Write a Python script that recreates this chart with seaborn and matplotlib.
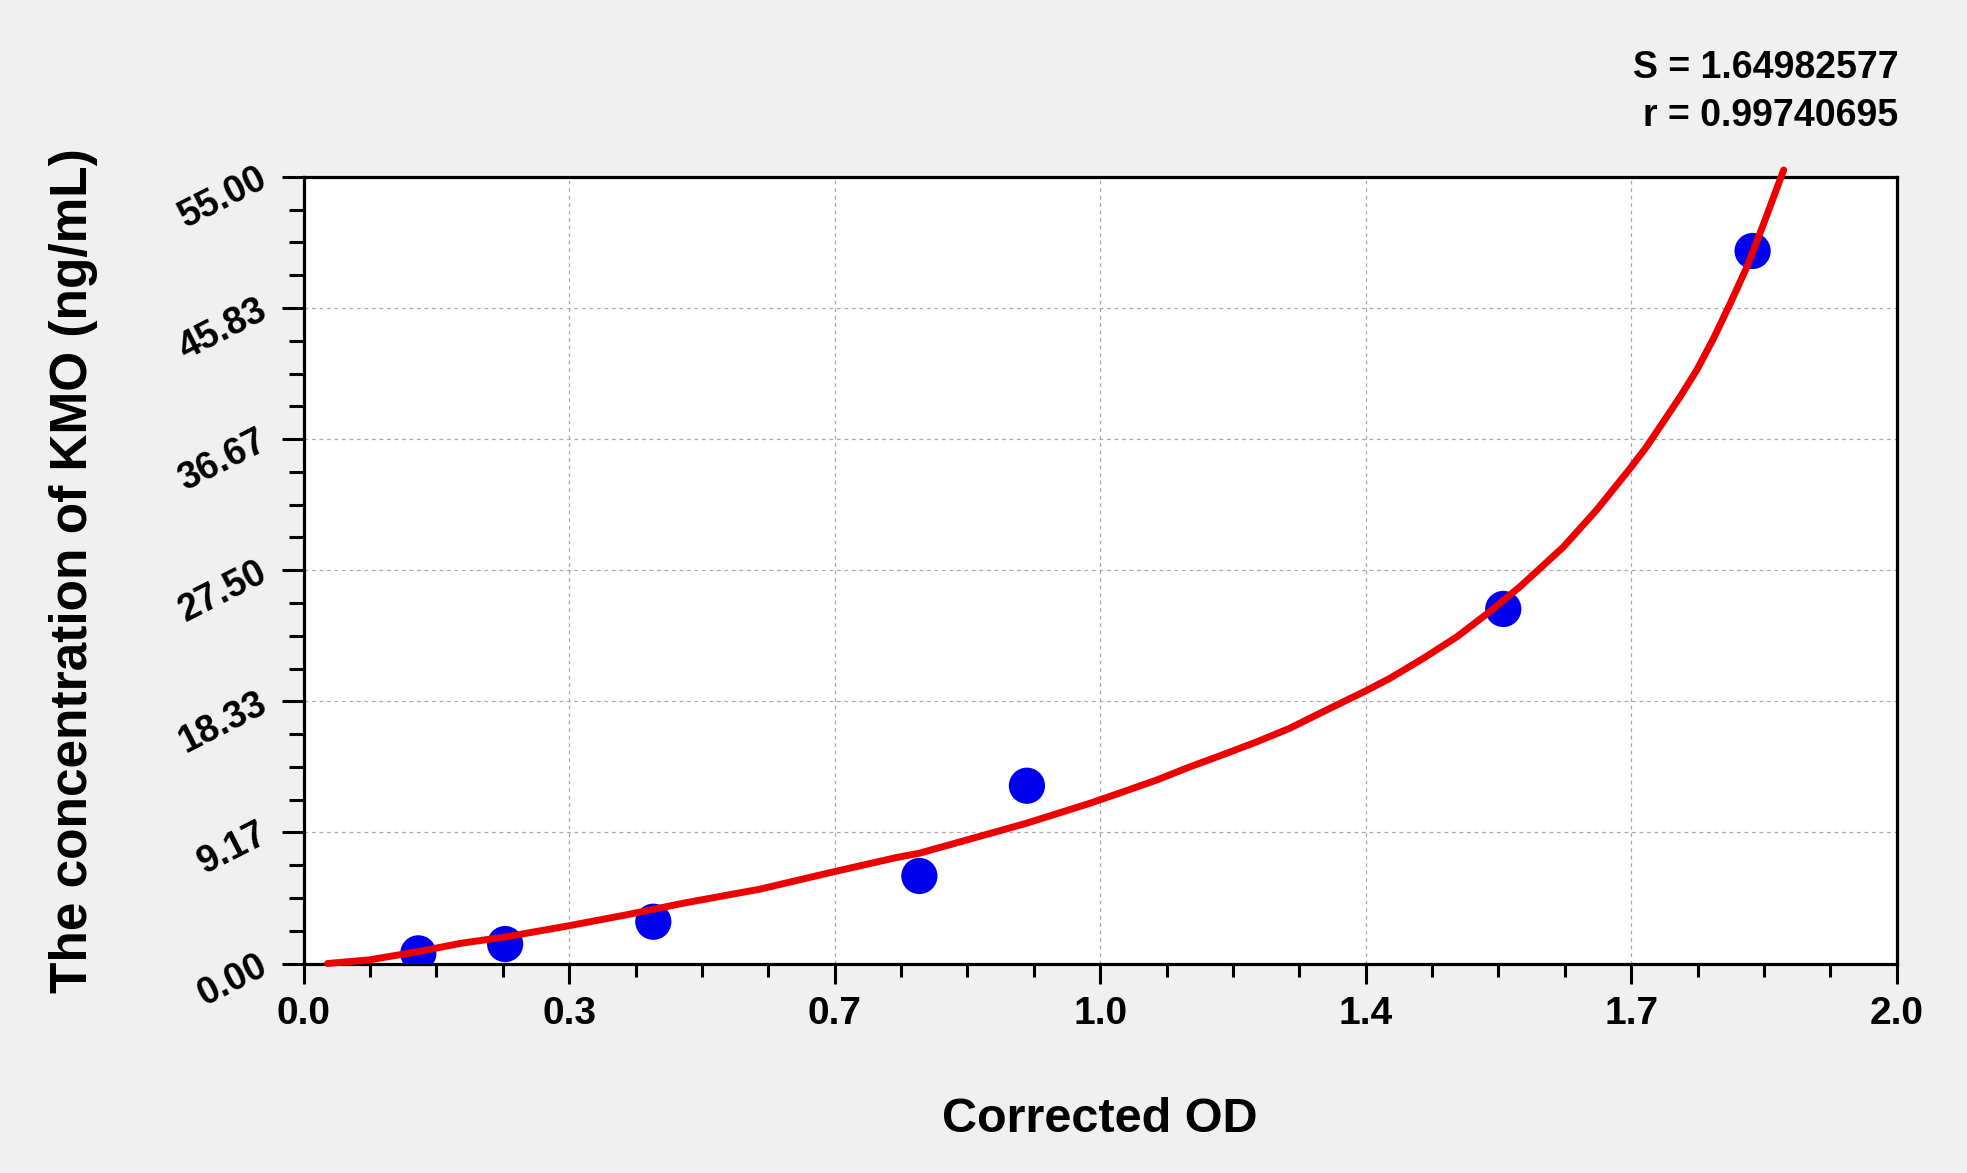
import numpy as np
import pandas as pd
import matplotlib
matplotlib.use("Agg")
import matplotlib.pyplot as plt
import seaborn as sns

# standard points
od_points = [0.144, 0.253, 0.439, 0.773, 0.908, 1.506, 1.819]
conc_points = [0.71, 1.36, 2.92, 6.12, 12.43, 24.79, 49.82]

# fitted curve
curve_od = [0.030, 0.082, 0.144, 0.197, 0.255, 0.331, 0.404, 0.476, 0.572,
            0.666, 0.745, 0.773, 0.907, 0.987, 1.029, 1.071, 1.113, 1.155,
            1.197, 1.238, 1.280, 1.333, 1.364, 1.406, 1.448, 1.489, 1.527,
            1.581, 1.623, 1.665, 1.686, 1.707, 1.728, 1.749, 1.770, 1.791,
            1.812, 1.832, 1.858]
curve_conc = [0.00, 0.25, 0.83, 1.41, 1.87, 2.62, 3.39, 4.21, 5.19,
              6.42, 7.42, 7.71, 9.80, 11.20, 12.01, 12.83, 13.76, 14.62,
              15.51, 16.45, 17.61, 19.05, 19.95, 21.35, 22.85, 24.60, 26.35,
              29.10, 31.70, 34.60, 36.14, 37.88, 39.63, 41.50, 43.71, 46.16,
              48.72, 51.60, 55.48]

x_tick_labels = ["0.0", "0.3", "0.7", "1.0", "1.4", "1.7", "2.0"]
y_tick_labels = ["0.00", "9.17", "18.33", "27.50", "36.67", "45.83", "55.00"]
stats_lines = ["S = 1.64982577", "r = 0.99740695"]

pts = pd.DataFrame({"od": od_points, "conc": conc_points})
curve = pd.DataFrame({"od": curve_od, "conc": curve_conc})

sns.set_theme(style="white")
plt.rcParams["font.family"] = ["Liberation Sans", "DejaVu Sans"]
plt.rcParams["font.weight"] = "bold"

fig = plt.figure(figsize=(19.67, 11.73), dpi=100, facecolor="#f0f0f0")
ax = fig.add_axes([0.15435, 0.17860, 0.80996, 0.67059])
ax.set_facecolor("white")

sns.scatterplot(data=pts, x="od", y="conc", ax=ax, s=680, color="#0000ee",
                edgecolor="none", zorder=3, legend=False)
sns.lineplot(data=curve, x="od", y="conc", ax=ax, sort=False, estimator=None,
             color="#ee0000", lw=5, zorder=4, clip_on=False,
             solid_capstyle="round", solid_joinstyle="round")

ax.set_xlim(0, 2)
ax.set_ylim(0, 55)
ax.set_xticks(np.linspace(0, 2, 7))
ax.set_xticklabels(x_tick_labels)
ax.set_yticks(np.linspace(0, 55, 7))
ax.set_yticklabels(y_tick_labels, rotation=27, ha="right", va="center",
                   rotation_mode="anchor")
ax.set_xticks(np.linspace(0, 2, 25), minor=True)
ax.set_yticks(np.linspace(0, 55, 25), minor=True)

ax.tick_params(axis="x", which="major", length=14.5, width=2.2, pad=9,
               labelsize=28, bottom=True, direction="out", colors="black")
ax.tick_params(axis="x", which="minor", length=9.5, width=2.2, bottom=True,
               direction="out", colors="black")
ax.tick_params(axis="y", which="major", length=16, width=2.2, pad=12,
               labelsize=27, left=True, direction="out", colors="black")
ax.tick_params(axis="y", which="minor", length=11, width=2.2, left=True,
               direction="out", colors="black")
for lab in ax.get_xticklabels() + ax.get_yticklabels():
    lab.set_fontweight("bold")

ax.grid(True, which="major", color="#a8a8a8", lw=0.9, ls=(0, (3, 3)))
ax.set_axisbelow(True)
for sp in ax.spines.values():
    sp.set_visible(True)
    sp.set_color("black")
    sp.set_linewidth(2.3)

ax.set_xlabel("Corrected OD", fontsize=35, fontweight="bold", color="black")
ax.xaxis.label.set_va("baseline")
ax.xaxis.set_label_coords(0.5, -0.2142)
ax.set_ylabel("The concentration of KMO (ng/mL)", fontsize=37,
              fontweight="bold", color="black")
ax.yaxis.label.set_va("center")
ax.yaxis.set_label_coords(-0.1447, 0.5)

fig.text(0.965, 0.9335, stats_lines[0], ha="right", va="baseline",
         fontsize=27, fontweight="bold", color="black")
fig.text(0.965, 0.8926, stats_lines[1], ha="right", va="baseline",
         fontsize=27, fontweight="bold", color="black")

fig.savefig("out.png", dpi=100, facecolor=fig.get_facecolor())
